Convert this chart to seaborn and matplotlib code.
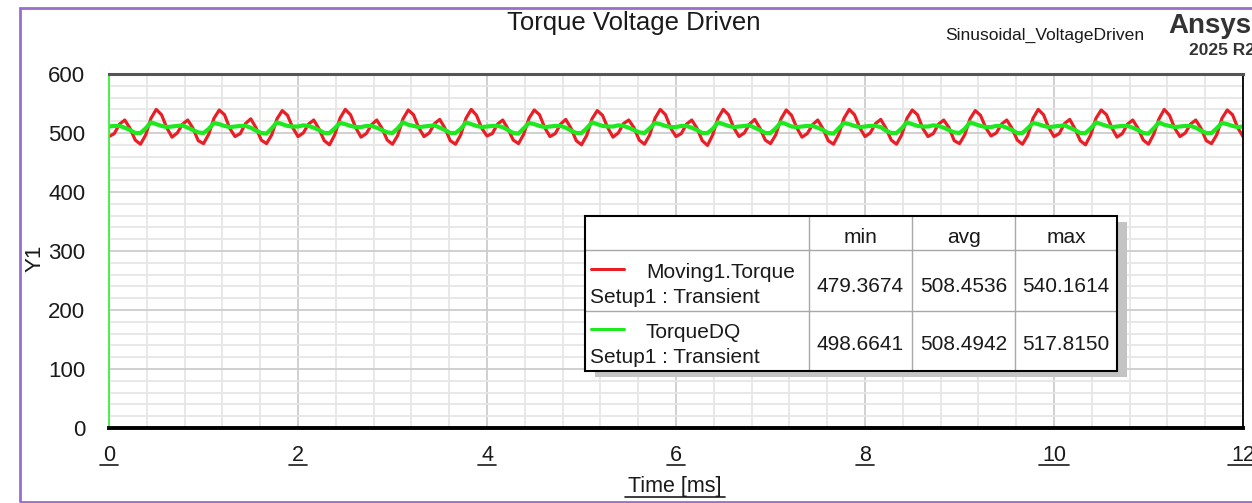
import numpy as np
import pandas as pd
import matplotlib
matplotlib.use("Agg")
import matplotlib.pyplot as plt
from matplotlib.lines import Line2D
from matplotlib.patches import Rectangle
from matplotlib.ticker import MultipleLocator
import seaborn as sns

# ── data (12 samples per 0.667 ms ripple period) ──
dt_ms = 1 / 18

torque_moving = [
    494, 499, 515, 522, 508, 488, 481, 497, 525, 540, 531, 509,
    493, 500, 515, 522, 508, 487, 482, 498, 525, 539, 531, 508,
    494, 499, 516, 524, 509, 488, 482, 497, 524, 538, 530, 509,
    494, 500, 515, 522, 507, 487, 480, 497, 525, 540, 531, 509,
    493, 499, 514, 522, 508, 488, 481, 496, 524, 539, 531, 509,
    494, 500, 516, 523, 508, 487, 481, 497, 525, 540, 530, 508,
    495, 499, 515, 522, 507, 488, 482, 498, 525, 539, 531, 509,
    494, 499, 515, 523, 508, 487, 480, 496, 524, 538, 530, 509,
    493, 500, 516, 522, 509, 488, 481, 497, 525, 540, 531, 508,
    494, 499, 515, 522, 508, 487, 479, 497, 525, 540, 531, 509,
    494, 500, 515, 523, 508, 488, 482, 497, 524, 539, 530, 509,
    493, 499, 514, 522, 507, 487, 481, 498, 525, 540, 531, 509,
    494, 500, 516, 523, 508, 488, 481, 497, 525, 539, 531, 508,
    494, 499, 515, 522, 509, 487, 482, 497, 524, 538, 530, 509,
    495, 500, 515, 522, 508, 488, 481, 496, 525, 540, 531, 509,
    494, 499, 516, 523, 507, 487, 480, 497, 525, 539, 531, 509,
    493, 499, 515, 522, 508, 488, 481, 498, 524, 540, 530, 508,
    494, 500, 515, 522, 508, 487, 482, 497, 525, 539, 531, 509,
    494,
]

torque_dq = [
    511, 512, 512, 509, 505, 500, 500, 508, 518, 515, 512, 510,
    511, 512, 513, 509, 505, 501, 500, 507, 517, 515, 512, 510,
    511, 512, 512, 509, 504, 500, 499, 508, 518, 515, 512, 511,
    511, 513, 512, 509, 505, 500, 500, 508, 517, 515, 512, 510,
    510, 512, 512, 509, 505, 501, 500, 508, 518, 514, 512, 510,
    511, 512, 513, 509, 505, 500, 500, 507, 518, 515, 512, 510,
    511, 512, 512, 510, 505, 500, 499, 508, 517, 515, 512, 510,
    511, 512, 512, 509, 504, 500, 500, 508, 518, 515, 512, 511,
    511, 513, 512, 509, 505, 501, 500, 508, 517, 515, 512, 510,
    510, 512, 512, 509, 505, 500, 500, 507, 518, 515, 512, 510,
    511, 512, 513, 509, 505, 500, 500, 508, 518, 515, 511, 510,
    511, 512, 512, 509, 505, 500, 499, 508, 517, 515, 512, 510,
    511, 512, 512, 510, 504, 500, 500, 508, 518, 515, 512, 511,
    511, 513, 512, 509, 505, 501, 500, 507, 518, 515, 512, 510,
    510, 512, 512, 509, 505, 500, 500, 508, 517, 515, 512, 510,
    511, 512, 513, 509, 505, 500, 500, 508, 518, 515, 512, 510,
    511, 512, 512, 509, 505, 500, 499, 508, 518, 514, 512, 510,
    511, 512, 512, 509, 504, 500, 500, 508, 517, 515, 512, 510,
    511,
]

trace_names = ['Moving1.Torque', 'TorqueDQ']
trace_setup = 'Setup1 : Transient'
trace_colors = ['#ea1f26', '#1ee81e']
stat_cols = ['min', 'avg', 'max']
stat_moving = ['479.3674', '508.4536', '540.1614']
stat_dq = ['498.6641', '508.4942', '517.8150']
x_ticks = [0, 2, 4, 6, 8, 10, 12]
y_ticks = [0, 100, 200, 300, 400, 500, 600]

time_ms = np.arange(len(torque_moving)) * dt_ms
df = pd.DataFrame({'Time': time_ms,
                   trace_names[0]: torque_moving,
                   trace_names[1]: torque_dq})
long_df = df.melt(id_vars='Time', var_name='trace', value_name='Y1')

sns.set_style('white')
plt.rcParams['font.family'] = ['Liberation Sans', 'DejaVu Sans']

W, H = 1252, 503
fig = plt.figure(figsize=(W / 100, H / 100), dpi=100)
fig.patch.set_facecolor('white')


def fx(x):
    return x / W


def fy(y):
    return 1 - y / H


ax = fig.add_axes([fx(109), fy(428), (1243 - 109) / W, (428 - 74) / H])

sns.lineplot(data=long_df, x='Time', y='Y1', hue='trace', size='trace',
             palette=dict(zip(trace_names, trace_colors)),
             sizes={trace_names[0]: 2.3, trace_names[1]: 3.0},
             legend=False, errorbar=None, ax=ax)

ax.set_xlim(0, 12)
ax.set_ylim(0, 600)
ax.set_xticks(x_ticks)
ax.set_yticks(y_ticks)
ax.xaxis.set_minor_locator(MultipleLocator(0.4))
ax.yaxis.set_minor_locator(MultipleLocator(20))
ax.grid(which='minor', color='#e6e6e6', linewidth=1.3)
ax.grid(which='major', color='#cdcdcd', linewidth=1.3)
ax.set_axisbelow(True)

ax.spines['bottom'].set(color='black', linewidth=2.8)
ax.spines['top'].set(color='#555555', linewidth=2.2)
ax.spines['right'].set(color='black', linewidth=1.3)
ax.spines['left'].set(color='#3df03d', linewidth=1.3)

ax.tick_params(axis='x', which='major', direction='out', length=9, width=2.6,
               color='black', labelsize=15.5, pad=3, labelcolor='#1a1a1a')
ax.tick_params(axis='x', which='minor', direction='out', length=4, width=2.6,
               color='black')
ax.tick_params(axis='y', which='major', direction='out', length=9, width=1.3,
               color='#3df03d', labelsize=16, pad=8, labelcolor='#1a1a1a')
ax.tick_params(axis='y', which='minor', direction='out', length=5, width=1.3,
               color='#3df03d')

ax.set_xlabel('Time [ms]', fontsize=15.5, color='#1a1a1a')
ax.xaxis.set_label_coords(0.499, -0.1356)
ax.set_ylabel('Y1', fontsize=16, color='#1a1a1a')
ax.yaxis.set_label_coords(-0.0564, 0.48)

# ── header texts ──
fig.text(fx(634), fy(30), 'Torque Voltage Driven', ha='center', va='baseline',
         fontsize=18.5, color='#1a1a1a')
fig.text(fx(945), fy(39.5), 'Sinusoidal_VoltageDriven', ha='left', va='baseline',
         fontsize=12.6, color='#1a1a1a')
fig.text(fx(1168), fy(33), 'Ansys', ha='left', va='baseline',
         fontsize=20, fontweight='bold', color='#333333')
fig.text(fx(1189), fy(55), '2025 R2', ha='left', va='baseline',
         fontsize=12.5, fontweight='bold', color='#333333')

# purple frame
fig.add_artist(Rectangle((fx(20), fy(502)), (W + 20 - 20) / W, (502 - 8) / H,
                         transform=fig.transFigure, facecolor='none',
                         edgecolor='#9b6dcc', linewidth=2, zorder=1))

# ── legend table ──
col_x = [585, 809, 912, 1015, 1117]
row_y = [216, 250, 311, 371]
tw = (col_x[-1] - col_x[0]) / W
th = (row_y[-1] - row_y[0]) / H
fig.add_artist(Rectangle((fx(col_x[0] + 10), fy(row_y[-1] + 6)), tw, th,
                         transform=fig.transFigure, facecolor='#c4c4c4',
                         edgecolor='none', zorder=5))
fig.add_artist(Rectangle((fx(col_x[0]), fy(row_y[-1])), tw, th,
                         transform=fig.transFigure, facecolor='white',
                         edgecolor='none', zorder=6))
for cx in col_x[1:-1]:
    fig.add_artist(Line2D([fx(cx), fx(cx)], [fy(row_y[0]), fy(row_y[-1])],
                          transform=fig.transFigure, color='#a8a8a8', lw=1, zorder=7))
for ry in row_y[1:-1]:
    fig.add_artist(Line2D([fx(col_x[0]), fx(col_x[-1])], [fy(ry), fy(ry)],
                          transform=fig.transFigure, color='#a8a8a8', lw=1, zorder=7))
fig.add_artist(Rectangle((fx(col_x[0]), fy(row_y[-1])), tw, th,
                         transform=fig.transFigure, facecolor='none',
                         edgecolor='black', linewidth=1.5, zorder=8))

tkw = dict(fontsize=15, color='#1a1a1a', va='baseline', zorder=9)
for i, name in enumerate(stat_cols):
    fig.text(fx((col_x[i + 1] + col_x[i + 2]) / 2), fy(243), name, ha='center', **tkw)

rows = [(trace_names[0], stat_moving, trace_colors[0], 269, 278, 303, 292),
        (trace_names[1], stat_dq, trace_colors[1], 329, 338, 363, 350)]
for name, stats, color, ly, ny, sy, vy in rows:
    fig.add_artist(Line2D([fx(591), fx(624)], [fy(ly), fy(ly)],
                          transform=fig.transFigure, color=color, lw=2.2, zorder=9))
    fig.text(fx(646), fy(ny), name, ha='left', **tkw)
    fig.text(fx(590), fy(sy), trace_setup, ha='left', **tkw)
    for i, val in enumerate(stats):
        fig.text(fx((col_x[i + 1] + col_x[i + 2]) / 2), fy(vy), val, ha='center', **tkw)

# ── underline tick labels and x label ──
fig.canvas.draw()
renderer = fig.canvas.get_renderer()
for lbl in list(ax.get_xticklabels()) + [ax.xaxis.label]:
    if not lbl.get_text():
        continue
    bb = lbl.get_window_extent(renderer)
    fig.add_artist(Line2D([(bb.x0 - 3) / W, (bb.x1 + 3) / W],
                          [(bb.y0 + 0.5) / H, (bb.y0 + 0.5) / H],
                          transform=fig.transFigure, color='#1a1a1a', lw=1.2))

fig.savefig('out.png', dpi=100, facecolor='white')
